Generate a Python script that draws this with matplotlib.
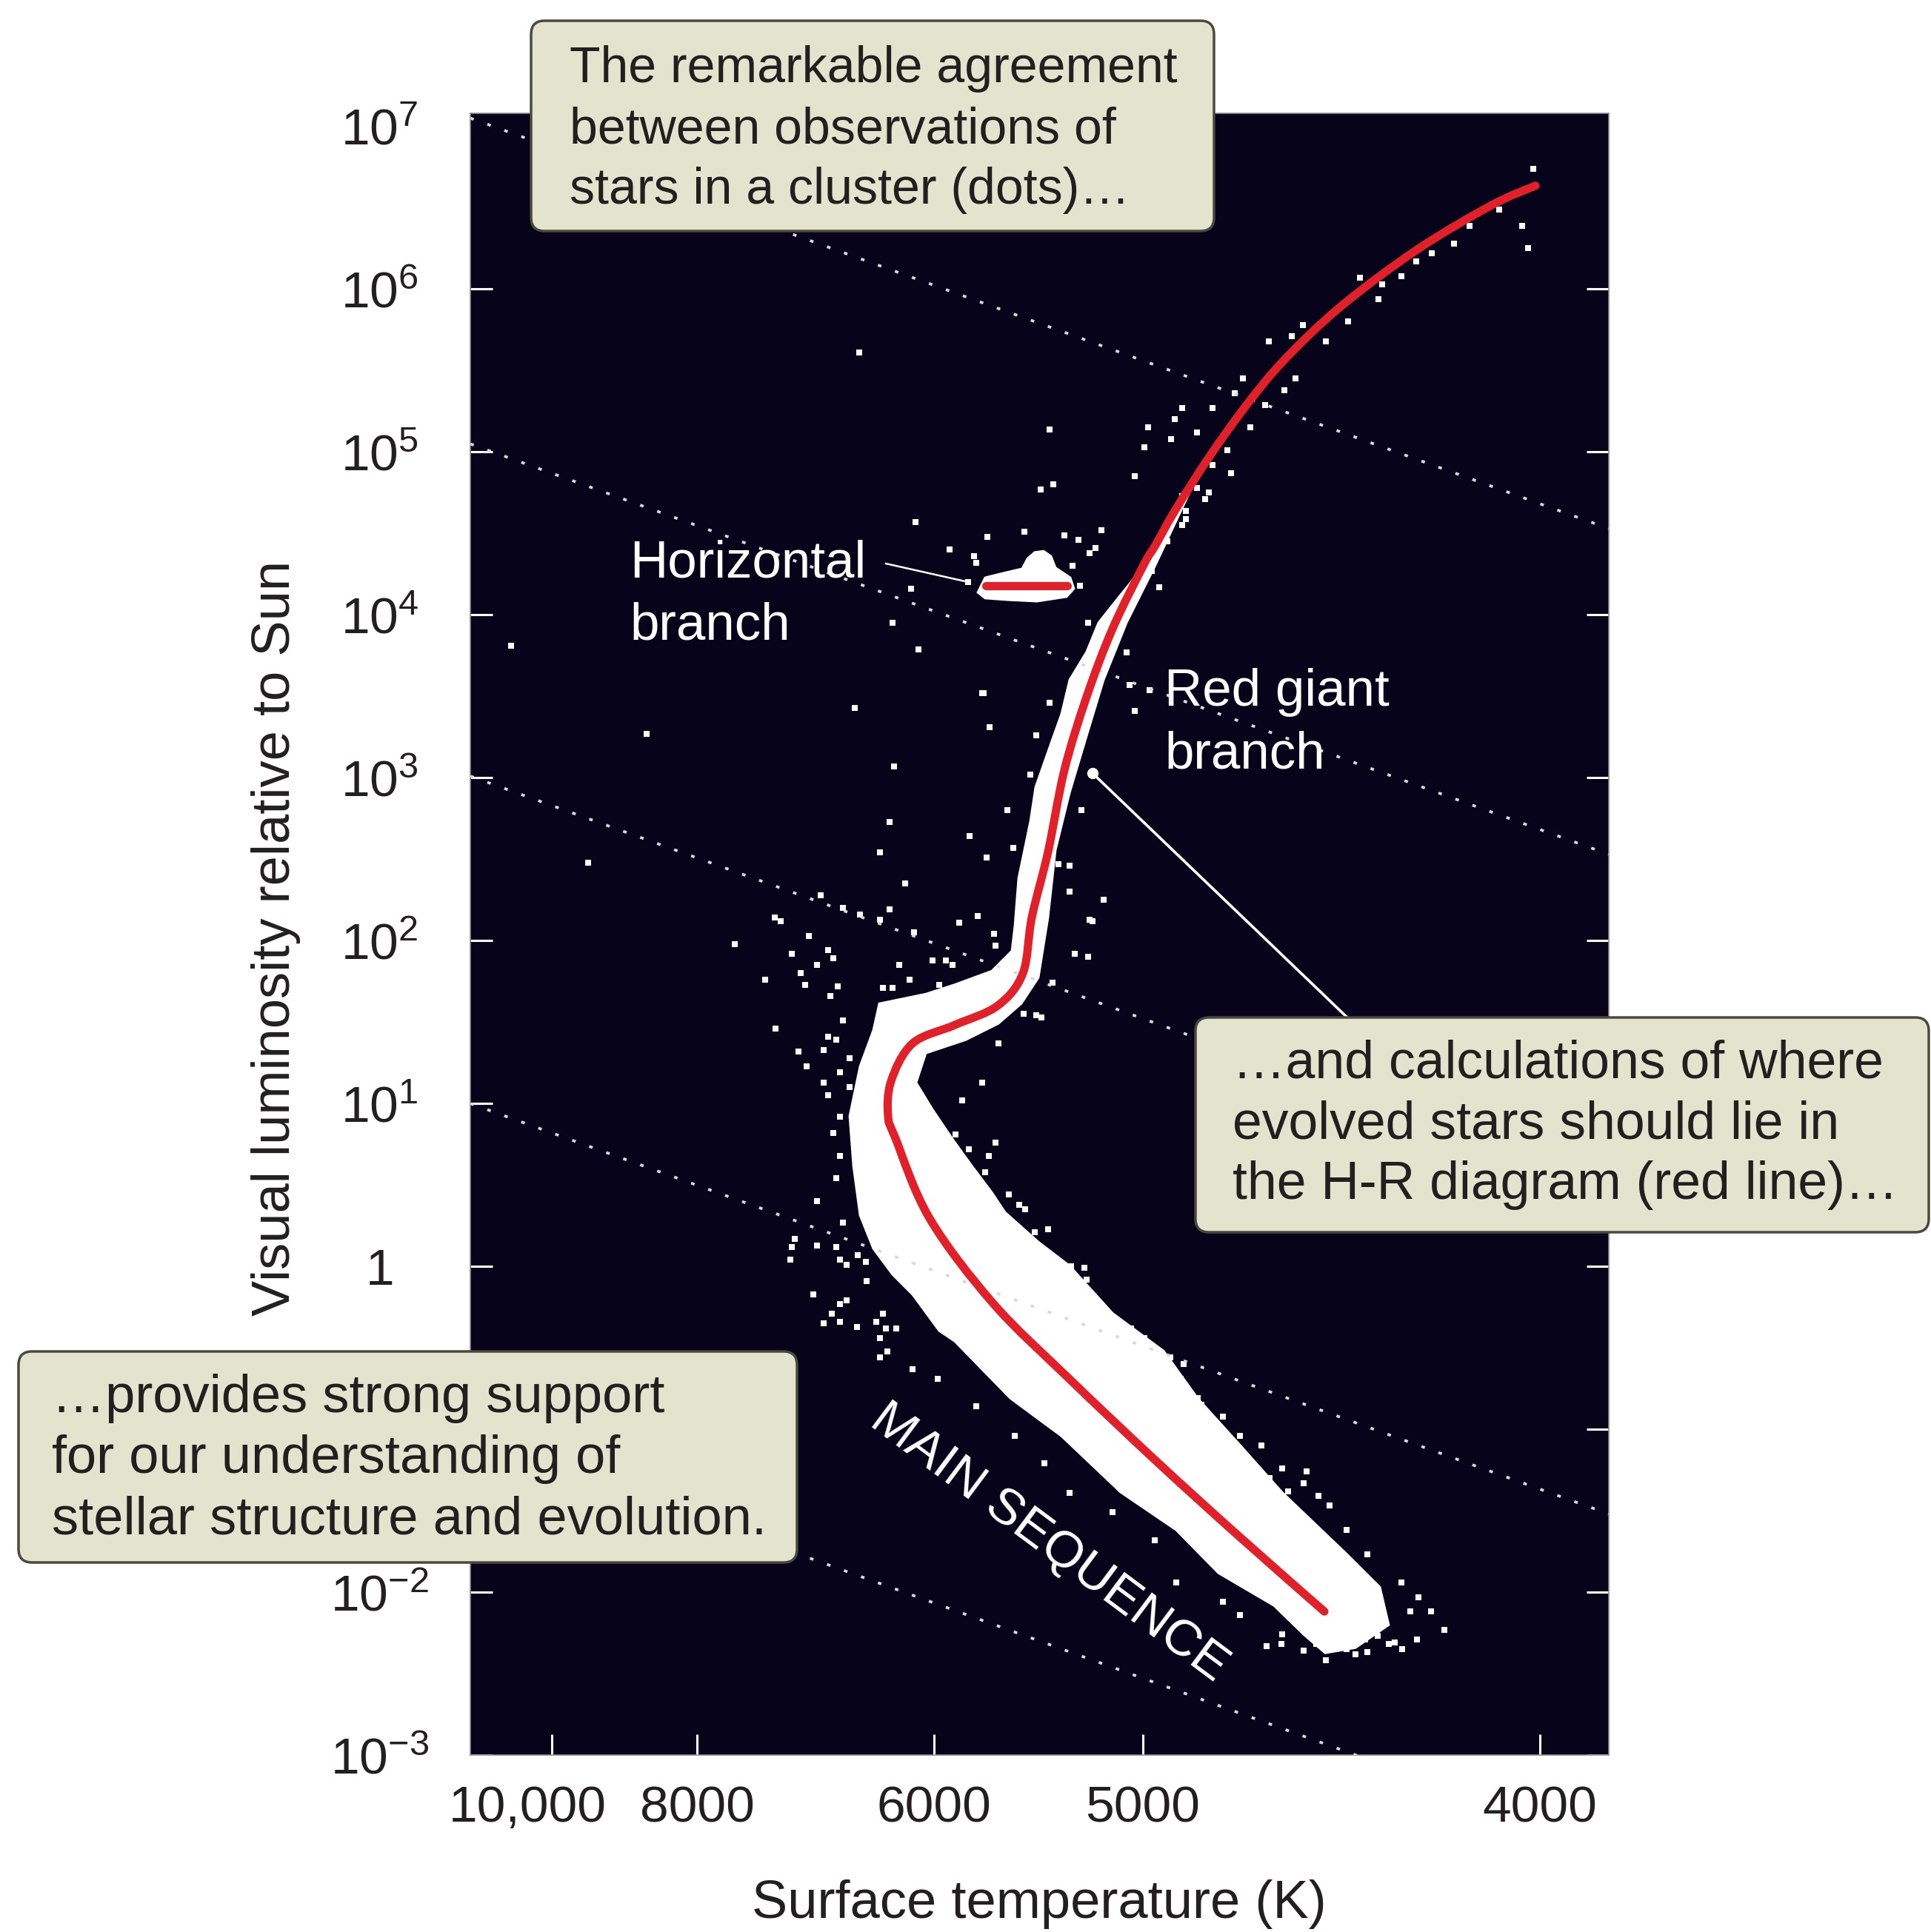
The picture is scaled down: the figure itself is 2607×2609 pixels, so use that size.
import numpy as np
import matplotlib
matplotlib.use("Agg")
import matplotlib.pyplot as plt
from matplotlib.patches import FancyBboxPatch, PathPatch
from matplotlib.path import Path
from matplotlib.ticker import NullLocator
from matplotlib.transforms import ScaledTranslation

plt.rcParams['font.family'] = ['Liberation Sans', 'DejaVu Sans']
plt.rcParams['mathtext.fontset'] = 'custom'
plt.rcParams['mathtext.rm'] = 'Liberation Sans'
plt.rcParams['mathtext.it'] = 'Liberation Sans:italic'
plt.rcParams['mathtext.bf'] = 'Liberation Sans:bold'

# x is a colour-like index, the axis is labelled with temperatures
temp_tick_pos = [0.0, 0.196, 0.516, 0.798, 1.334]
temp_tick_labels = ['10,000', '8000', '6000', '5000', '4000']
lum_exponents = list(range(-3, 8))
# 10^-1 sits under the lower-left box in the original, so it is left blank
lum_tick_labels = [r'$10^{-3}$', r'$10^{-2}$', '', '1', r'$10^{1}$', r'$10^{2}$',
                   r'$10^{3}$', r'$10^{4}$', r'$10^{5}$', r'$10^{6}$', r'$10^{7}$']

# cluster stars (scattered dots), colour index and log L
star_color = [1.325, 1.310, 1.318, 1.279, 1.239, 1.218, 1.188, 1.167, 1.147, 1.121, 1.091, 1.116,
              1.075, 1.045, 1.014, 0.999, 0.968, 1.004, 0.989, 0.933, 0.922, 0.892, 0.851, 0.841,
              0.805, 0.836, 0.800, 0.871, 0.912, 0.917, 0.892, 0.943, 0.963, 0.787, 0.871, 0.851,
              0.882, 0.856, 0.851, 0.831, 0.815, 0.820, 0.810, 0.790, 0.779, 0.672, 0.660, 0.677,
              0.415, 0.887, 0.856, 0.776, 0.724, 0.787, 0.780, 0.807, 0.672, 0.581, 0.591,
              0.562, 0.573, 0.638, 0.692, 0.711, 0.742, 0.726, 0.703, 0.713, 0.588, 0.537, 0.491,
              0.570, 0.734,
              0.485, 0.460, 0.495, 0.583, 0.409, 0.654, 0.462, 0.646, 0.456, 0.615, 0.715, 0.564,
              0.443, 0.587, 0.623, 0.684, 0.699, 0.477, 0.699, 0.745, 0.456, 0.443, 0.575, 0.363,
              0.393, 0.416, 0.726, 0.128, 0.049, -0.055, 0.247, 0.301,
              0.489, 0.550, 0.597, 0.599, 0.309, 0.347, 0.324, 0.373, 0.380, 0.358, 0.288, 0.342,
              0.376, 0.469, 0.514, 0.532, 0.541, 0.447, 0.460, 0.483, 0.523, 0.393, 0.302, 0.373,
              0.384, 0.333, 0.367, 0.402, 0.344, 0.389, 0.367, 0.402, 0.373, 0.389, 0.380, 0.389,
              0.384, 0.358, 0.393, 0.324, 0.322, 0.358, 0.384, 0.413, 0.389, 0.398, 0.425, 0.398,
              0.438, 0.389, 0.367, 0.451, 0.465, 0.443, 0.443, 0.336, 0.386,
              0.581, 0.554, 0.545, 0.599, 0.590, 0.563, 0.585, 0.617, 0.639, 0.670, 0.652, 0.684,
              0.701, 0.719, 0.701, 0.724, 0.737, 0.755, 0.782, 0.800, 0.835, 0.853, 0.603, 0.637,
              0.661, 0.730, 0.706, 0.724, 0.654, 0.676,
              0.631, 0.722, 0.757, 0.849, 0.872, 0.906, 0.929, 0.958, 0.986, 1.015, 1.050, 1.073,
              1.101, 1.147, 1.170, 1.187, 1.205, 1.159, 1.130, 1.101, 1.073, 1.032, 0.986, 0.929,
              0.906, 0.843, 0.814, 0.757, 0.699, 0.665, 0.625, 0.573, 0.521, 0.487, 0.453, 0.412,
              0.447, 0.378, 0.389, 0.424, 1.168, 0.965, 0.985, 1.015, 1.045, 1.055, 1.085, 1.098,
              1.115, 1.138, 1.148, 0.353, 0.328,
              0.719, 0.752, 0.777, 0.802, 0.835, 0.852, 0.877, 0.894, 0.919, 0.935, 0.969, 0.994,
              1.019, 1.035]
star_logL = [6.74, 6.39, 6.25, 6.49, 6.39, 6.28, 6.22, 6.17, 6.08, 6.03, 6.07, 5.94,
             5.80, 5.68, 5.78, 5.71, 5.68, 5.45, 5.38, 5.45, 5.36, 5.27, 5.27, 5.20,
             5.15, 5.08, 5.03, 5.12, 5.01, 4.87, 4.92, 5.15, 5.29, 4.85, 4.78, 4.73,
             4.71, 4.64, 4.55, 4.45, 4.38, 4.17, 4.27, 4.20, 4.08, 5.14, 4.77, 4.80,
             5.61, 4.75, 4.59, 3.77, 3.95, 3.41, 3.57, 3.54, 3.46, 3.52, 3.31,
             4.20, 4.32, 4.51, 4.49, 4.46, 4.52, 4.38, 4.30, 4.18, 4.48, 4.40, 4.57,
             4.36, 4.41,
             4.16, 3.95, 3.79, 3.52, 3.43, 3.26, 3.07, 3.02, 2.73, 2.80, 2.80, 2.64,
             2.54, 2.51, 2.57, 2.47, 2.46, 2.35, 2.30, 2.25, 2.19, 2.13, 2.15, 2.28,
             2.20, 2.16, 2.13, 3.27, 2.48, 3.81, 1.98, 2.14,
             2.05, 2.11, 2.04, 1.97, 2.12, 2.03, 1.92, 1.94, 1.89, 1.85, 1.76, 1.73,
             1.66, 1.85, 1.88, 1.88, 1.85, 1.71, 1.71, 1.76, 1.73, 1.51, 1.46, 1.41,
             1.39, 1.32, 1.33, 1.28, 1.23, 1.19, 1.13, 1.10, 1.05, 0.92, 0.82, 0.68,
             0.54, 0.40, 0.27, 0.12, 0.04, 0.13, 0.12, 0.07, 0.04, 0.01, -0.09, -0.21,
             -0.34, -0.34, -0.35, -0.38, -0.38, -0.44, -0.56, 1.80, 1.72,
             1.13, 1.02, 0.81, 0.76, 0.68, 0.72, 0.58, 0.44, 0.35, 0.23, 0.21, 0.03,
             0.00, -0.01, -0.09, -0.17, -0.24, -0.34, -0.38, -0.44, -0.56, -0.60, 1.37, 1.55,
             1.53, 2.12, 1.92, 1.90, 1.54, 1.74,
             0.38, -0.08, -0.31, -0.69, -0.81, -0.92, -1.04, -1.10, -1.24, -1.33, -1.47, -1.62,
             -1.77, -1.94, -2.03, -2.12, -2.23, -2.12, -2.32, -2.37, -2.35, -2.32, -2.26, -2.14,
             -2.06, -1.94, -1.68, -1.51, -1.39, -1.21, -1.04, -0.86, -0.69, -0.63, -0.52, -0.37,
             -0.29, -0.29, -0.23, 0.03, -2.29, -2.33, -2.32, -2.36, -2.42, -2.33, -2.38, -2.29,
             -2.27, -2.31, -2.35, -0.17, 0.17,
             -0.25, -0.40, -0.47, -0.55, -0.62, -0.74, -0.85, -1.00, -1.08, -1.19, -1.30, -1.38,
             -1.26, -1.41]

# outline of the densely packed main sequence / subgiant / lower giant branch
band_color = [0.853, 0.830, 0.799, 0.768, 0.738, 0.722, 0.699, 0.688, 0.673, 0.653, 0.646, 0.630,
              0.625, 0.621, 0.594, 0.545, 0.505, 0.442, 0.434, 0.416, 0.402, 0.407, 0.416, 0.434,
              0.460, 0.487, 0.523, 0.544, 0.619, 0.688, 0.768, 0.843, 0.900, 0.975, 1.015, 1.044,
              1.085, 1.130, 1.118, 1.073, 0.986, 0.929, 0.872, 0.826, 0.757, 0.699, 0.657, 0.612,
              0.594, 0.567, 0.541, 0.514, 0.492, 0.505, 0.559, 0.603, 0.634, 0.657, 0.670, 0.680,
              0.699, 0.722, 0.745, 0.776, 0.814, 0.868]
band_logL = [4.679, 4.506, 4.297, 4.124, 3.952, 3.774, 3.601, 3.392, 3.201, 2.942, 2.733, 2.383,
             2.092, 1.937, 1.814, 1.732, 1.673, 1.614, 1.450, 1.228, 0.923, 0.618, 0.314, 0.109,
             -0.050, -0.173, -0.396, -0.460, -0.810, -1.042, -1.387, -1.619, -1.883, -2.083, -2.260, -2.374,
             -2.342, -2.201, -1.969, -1.765, -1.387, -1.096, -0.810, -0.519, -0.287, 0.004, 0.150, 0.332,
             0.455, 0.618, 0.782, 0.964, 1.128, 1.309, 1.391, 1.491, 1.614, 1.773, 2.142, 2.555,
             2.906, 3.256, 3.601, 3.952, 4.297, 4.820]

# horizontal branch clump
hb_color = [0.575, 0.585, 0.605, 0.635, 0.642, 0.652, 0.664, 0.674, 0.680, 0.700, 0.705,
            0.695, 0.655, 0.615, 0.585]
hb_logL = [4.138, 4.229, 4.252, 4.284, 4.345, 4.385, 4.392, 4.360, 4.290, 4.229, 4.161,
           4.111, 4.083, 4.092, 4.102]

# model isochrone (red line)
iso_color = [1.043, 0.925, 0.814, 0.699, 0.596, 0.510, 0.464, 0.454, 0.458, 0.487,
             0.544, 0.602, 0.636, 0.648, 0.670, 0.692, 0.722, 0.757, 0.800, 0.814, 0.841,
             0.887, 0.938, 0.989, 1.065, 1.167, 1.269, 1.328]
iso_logL = [-2.119, -1.646, -1.187, -0.692, -0.228, 0.295, 0.786, 0.923, 1.137, 1.369,
            1.482, 1.601, 1.800, 2.142, 2.546, 3.047, 3.497, 3.915, 4.315, 4.420, 4.638,
            4.966, 5.289, 5.566, 5.893, 6.239, 6.516, 6.635]
hb_track_color = [0.586, 0.696]
hb_track_logL = [4.179, 4.179]

# dotted reference lines (log L at left and right edge)
rad_x = [-0.110, 1.427]
rad_logL_left = [7.05, 5.05, 3.01, 1.00, -1.04]
rad_logL_right = [4.53, 2.53, 0.49, -1.52, -3.56]

# leader lines
hb_leader_color = [0.451, 0.562]
hb_leader_logL = [4.315, 4.202]
rgb_leader_color = [0.730, 1.073]
rgb_leader_logL = [3.028, 1.532]

box_top = ['The remarkable agreement', 'between observations of', 'stars in a cluster (dots)\u2026']
box_right = ['\u2026and calculations of where', 'evolved stars should lie in', 'the H-R diagram (red line)\u2026']
box_left = ['\u2026provides strong support', 'for our understanding of', 'stellar structure and evolution.']


def smooth_path(xs, logs):
    # Catmull-Rom through the read points, drawn as cubic Bezier pieces
    pts = np.column_stack([xs, logs])
    n = len(pts)
    verts = [pts[0]]
    codes = [Path.MOVETO]
    for i in range(n - 1):
        p0 = pts[max(i - 1, 0)]
        p1 = pts[i]
        p2 = pts[i + 1]
        p3 = pts[min(i + 2, n - 1)]
        verts += [p1 + (p2 - p0) / 6, p2 - (p3 - p1) / 6, p2]
        codes += [Path.CURVE4] * 3
    verts = np.array(verts)
    verts[:, 1] = 10 ** verts[:, 1]
    return Path(verts, codes)


W, H = 2607, 2609
fig = plt.figure(figsize=(W / 100, H / 100), dpi=100)
ax = fig.add_axes([635 / W, 1 - 2370 / H, 1537 / W, (2370 - 152.7) / H])
ax.set_facecolor('#06031a')
dark = '#231f20'
red = '#e2202a'

ax.set_yscale('log')
ax.set_xlim(-0.110, 1.427)
ax.set_ylim(1e-3, 10 ** 7.081)

# dotted lines
for l0, l1 in zip(rad_logL_left, rad_logL_right):
    ax.plot(rad_x, [10 ** l0, 10 ** l1], color='#dadada', lw=2.7,
            linestyle=(0, (1.3, 5.2)), dash_capstyle='butt', zorder=4)

ax.fill(band_color, 10 ** np.array(band_logL), color='white', lw=2, zorder=2)
ax.fill(hb_color, 10 ** np.array(hb_logL), color='white', lw=2, zorder=2)
ax.scatter(star_color, 10 ** np.array(star_logL), s=36, marker='s', c='white',
           linewidths=0, zorder=3)

ax.add_patch(PathPatch(smooth_path(iso_color, iso_logL), fill=False, edgecolor=red,
                       lw=8, capstyle='round', joinstyle='round', zorder=6))
ax.plot(hb_track_color, 10 ** np.array(hb_track_logL), color=red, lw=8,
        solid_capstyle='round', zorder=6)

ax.plot(hb_leader_color, 10 ** np.array(hb_leader_logL), color='white', lw=1.8, zorder=7)
ax.plot(rgb_leader_color, 10 ** np.array(rgb_leader_logL), color='white', lw=2.6, zorder=7)
ax.plot(rgb_leader_color[0], 10 ** rgb_leader_logL[0], 'o', ms=10, color='white', zorder=7)

# axes styling
ax.set_yticks([10.0 ** e for e in lum_exponents])
ax.set_yticklabels(lum_tick_labels)
ax.yaxis.set_minor_locator(NullLocator())
ax.set_xticks(temp_tick_pos)
ax.set_xticklabels(temp_tick_labels)
ax.tick_params(axis='y', direction='in', length=21.6, width=2.2, color='white',
               left=True, right=True, labelsize=50, labelcolor=dark, pad=88)
ax.tick_params(axis='x', direction='in', length=20, width=2.2, color='white',
               bottom=True, top=False, labelsize=50, labelcolor=dark, pad=29)
plt.setp(ax.get_yticklabels(), ha='center')
ax.yaxis.get_major_ticks()[-1].tick1line.set_visible(False)
ax.yaxis.get_major_ticks()[-1].tick2line.set_visible(False)
for sp in ax.spines.values():
    sp.set_color('#8c8c8c')
    sp.set_linewidth(1.2)
lab0 = ax.get_xticklabels()[0]
lab0.set_transform(lab0.get_transform() + ScaledTranslation(-0.33, 0, fig.dpi_scale_trans))

fig.text(372 / W, 1 - 1267 / H, 'Visual luminosity relative to Sun', rotation=90,
         ha='center', va='center', fontsize=52, color=dark)
fig.text(1403 / W, 1 - 2590 / H, 'Surface temperature (K)', ha='center', va='baseline',
         fontsize=52, color=dark)

# labels inside the plot
fig.text(850 / W, 1 - 779 / H, 'Horizontal', color='white', fontsize=51, va='baseline')
fig.text(850 / W, 1 - 863 / H, 'branch', color='white', fontsize=51, va='baseline')
fig.text(1572 / W, 1 - 953 / H, 'Red giant', color='white', fontsize=51, va='baseline')
fig.text(1572 / W, 1 - 1038 / H, 'branch', color='white', fontsize=51, va='baseline')
fig.text(1416 / W, 1 - 2083 / H, 'MAIN SEQUENCE', color='white', fontsize=50,
         rotation=-36.7, rotation_mode='anchor', ha='center', va='center')

# annotation boxes
boxes = [((717, 28, 1639, 312), (769, [111, 193, 275]), box_top, 49),
         ((1614, 1374, 2604, 1664), (1664, [1455, 1537, 1619]), box_right, 51.5),
         ((25, 1825, 1076, 2110), (70, [1907, 1989, 2071]), box_left, 52)]
for (x0, y0, x1, y1), (tx, bases), lines, fs in boxes:
    p = FancyBboxPatch((x0 / W, 1 - y1 / H), (x1 - x0) / W, (y1 - y0) / H,
                       boxstyle='round,pad=0,rounding_size=0.007',
                       transform=fig.transFigure, facecolor='#e4e3cd',
                       edgecolor='#4a4940', lw=2.5, zorder=10)
    fig.add_artist(p)
    for b, s in zip(bases, lines):
        fig.text(tx / W, 1 - b / H, s, fontsize=fs, color=dark, va='baseline', zorder=11)

fig.savefig('out.png', dpi=100, facecolor='white')
